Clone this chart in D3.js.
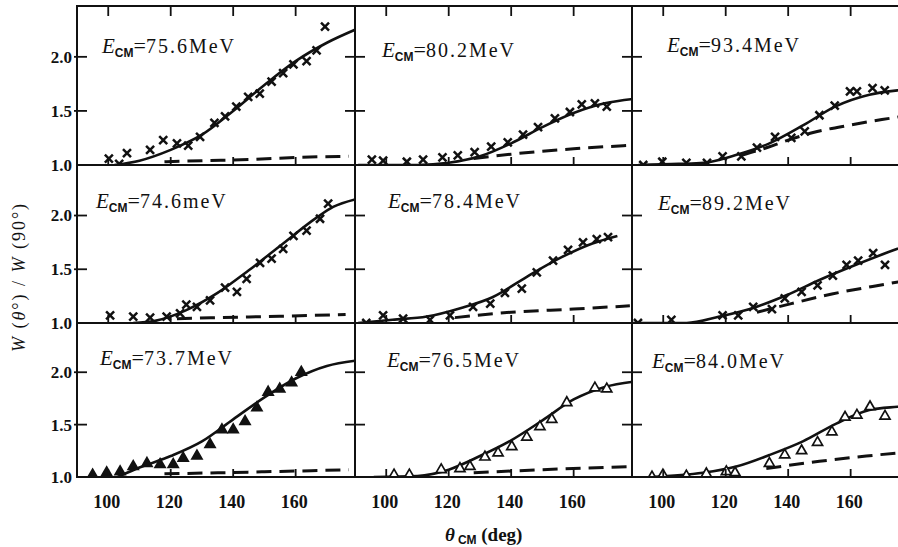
<!DOCTYPE html>
<html>
<head>
<meta charset="utf-8">
<script src="https://cdn.jsdelivr.net/npm/d3@7"></script>
<style>
body { margin: 0; background: #fff; }
svg { display: block; }
text { font-family: "Liberation Serif", "DejaVu Serif", serif; fill: #111; }
</style>
</head>
<body>
<svg id="chart" width="898" height="547"></svg>
<script>
const thetaTicks = [100, 120, 140, 160]
const ratioTicks = [1.0, 1.5, 2.0]
const energyLabels = ['75.6MeV', '80.2MeV', '93.4MeV', '74.6meV', '78.4MeV', '89.2MeV', '73.7MeV', '76.5MeV', '84.0MeV']

// solid = full calculation, dashed = second calculation, data = measured W(θ)/W(90)
const fit756 = [[102,1.0],[110,1.04],[120,1.14],[130,1.28],[140,1.50],[150,1.74],[160,1.96],[170,2.13],[179,2.25]]
const dash756 = [[118,1.03],[130,1.04],[145,1.05],[160,1.07],[177,1.08]]
const data756 = [[100.2,1.06],[103.5,1.01],[106,1.11],[113.4,1.14],[117.6,1.23],[122,1.20],[125.6,1.18],[129.4,1.26],[134,1.39],[137.4,1.45],[141,1.54],[144.8,1.63],[148.5,1.66],[152.3,1.77],[156,1.85],[159.3,1.93],[163.5,1.96],[166.7,2.06],[169.4,2.28]]

const fit802 = [[91,1.0],[110,1.0],[120,1.02],[130,1.08],[140,1.2],[150,1.35],[160,1.48],[170,1.57],[179,1.61]]
const dash802 = [[128,1.06],[140,1.10],[160,1.15],[177,1.18]]
const data802 = [[95.4,1.05],[99,1.04],[106.6,1.03],[111.8,1.05],[118,1.07],[122.9,1.09],[128.3,1.12],[133.6,1.17],[138.9,1.21],[143.8,1.28],[148.6,1.35],[154,1.43],[158.8,1.49],[162.6,1.56],[166.8,1.57],[170.6,1.54]]

const fit934 = [[92,1.0],[105,1.01],[113,1.02],[123,1.09],[134,1.2],[145,1.37],[155,1.54],[166,1.65],[175,1.69],[179,1.70]]
const dash934 = [[125,1.09],[132,1.15],[140,1.23],[148,1.30],[160,1.37],[170,1.42],[179,1.46]]
const data934 = [[93.6,1.0],[99.7,1.03],[107.4,1.02],[114,1.02],[119,1.08],[125,1.08],[130,1.16],[135.8,1.26],[141,1.25],[145.3,1.31],[150,1.46],[154.9,1.55],[159.8,1.68],[162,1.68],[167,1.71],[170.9,1.69]]

const fit746 = [[108,1.0],[115,1.02],[125,1.12],[135,1.28],[145,1.49],[156,1.74],[166.7,1.98],[172,2.08],[179,2.15]]
const dash746 = [[122,1.04],[135,1.05],[150,1.06],[165,1.07],[176,1.08]]
const data746 = [[100.6,1.07],[108,1.06],[113.4,1.05],[118.7,1.06],[123,1.09],[125,1.17],[128.4,1.15],[132.6,1.21],[137.4,1.33],[141.2,1.29],[144.3,1.41],[148.6,1.56],[152.3,1.6],[156,1.69],[159.3,1.81],[163.5,1.86],[167.8,1.97],[170.4,2.11]]

const fit784 = [[91,1.0],[102,1.03],[113,1.06],[124,1.14],[134,1.24],[145,1.43],[156,1.61],[166,1.74],[174,1.81]]
const dash784 = [[122,1.05],[140,1.10],[160,1.13],[178,1.16]]
const data784 = [[93.6,1.0],[99,1.07],[105.4,1.04],[114,1.03],[120.4,1.07],[127.8,1.15],[133.3,1.18],[138,1.28],[143.4,1.32],[148.2,1.47],[153.4,1.58],[158.2,1.68],[163,1.75],[167.4,1.78],[171,1.8]]

const fit892 = [[90,1.0],[107.5,1.0],[118,1.06],[128.8,1.14],[139.6,1.26],[150,1.4],[160.7,1.53],[175,1.69],[179,1.73]]
const dash892 = [[130,1.1],[141,1.18],[154,1.27],[167,1.34],[179,1.4]]
const data892 = [[91.9,1.0],[102.6,1.03],[119,1.07],[124,1.07],[128.8,1.15],[134.8,1.13],[138.9,1.23],[144.3,1.29],[149.4,1.35],[154.3,1.44],[158.7,1.54],[162.4,1.58],[167.2,1.65],[171,1.54]]

const fit737 = [[103,1.0],[110,1.09],[120,1.2],[130,1.34],[140,1.55],[150,1.76],[160,1.94],[170,2.06],[179,2.11]]
const dash737 = [[118,1.03],[135,1.04],[150,1.05],[165,1.06],[177,1.07]]
const data737 = [[95,1.02],[99.5,1.04],[103.8,1.05],[108,1.1],[112.4,1.13],[116.6,1.12],[120.8,1.12],[124,1.18],[128.4,1.2],[132.6,1.31],[136.4,1.45],[140,1.45],[143.8,1.53],[147.6,1.66],[151.2,1.81],[154.9,1.84],[158.7,1.9],[161.8,2.0]]

const fit765 = [[96,1.0],[110,1.01],[120,1.07],[130,1.2],[140,1.35],[150,1.54],[160,1.74],[170,1.86],[179,1.91]]
const dash765 = [[128,1.04],[150,1.07],[178,1.1]]
const data765 = [[102.5,1.02],[107.4,1.02],[117.6,1.07],[123.6,1.08],[126.8,1.1],[131.6,1.19],[135.8,1.23],[140.2,1.29],[145,1.38],[149.2,1.48],[153,1.55],[157.8,1.71],[166.8,1.85],[170.6,1.84]]

const fit840 = [[96,1.0],[112.7,1.04],[123.4,1.1],[134,1.21],[144.7,1.34],[155.4,1.51],[166,1.64],[175,1.67],[179,1.68]]
const dash840 = [[133,1.08],[150,1.15],[165,1.2],[179,1.24]]
const data840 = [[96.4,1.0],[99.9,1.02],[107.4,1.01],[113.8,1.03],[120.2,1.05],[123,1.04],[134,1.13],[138.9,1.21],[144.3,1.25],[149.4,1.33],[154,1.43],[158.2,1.57],[162,1.59],[166.2,1.67],[171,1.58]]

const panels = [
  { fit: fit756, dash: dash756, data: data756, mark: 'cross' },
  { fit: fit802, dash: dash802, data: data802, mark: 'cross' },
  { fit: fit934, dash: dash934, data: data934, mark: 'cross' },
  { fit: fit746, dash: dash746, data: data746, mark: 'cross' },
  { fit: fit784, dash: dash784, data: data784, mark: 'cross' },
  { fit: fit892, dash: dash892, data: data892, mark: 'cross' },
  { fit: fit737, dash: dash737, data: data737, mark: 'triFill' },
  { fit: fit765, dash: dash765, data: data765, mark: 'triOpen' },
  { fit: fit840, dash: dash840, data: data840, mark: 'triOpen' },
]

// layout
const colLeft = [77, 355, 632]
const rowTop = [6, 165, 323]
const rowBottom = [165, 323, 477]
const panelW = 278
const labelPos = [[25,47],[27,51],[35,46],[19,43],[33,43],[26,45],[23,42],[32,44],[20,45]]

const svg = d3.select('#chart')
const line = (x, y) => d3.line().x(d => x(d[0])).y(d => y(d[1])).curve(d3.curveMonotoneX)

panels.forEach((p, i) => {
  const r = Math.floor(i / 3), c = i % 3
  const x = d3.scaleLinear().domain([90, 179]).range([colLeft[c], colLeft[c] + panelW])
  const y = d3.scaleLinear().domain([1, 2.47]).range([rowBottom[r], rowTop[r]])

  svg.append('clipPath').attr('id', 'clip' + i)
    .append('rect')
    .attr('x', colLeft[c]).attr('y', rowTop[r] - 20)
    .attr('width', panelW).attr('height', rowBottom[r] - rowTop[r] + 20)

  const g = svg.append('g').attr('clip-path', `url(#clip${i})`)

  g.append('path').datum(p.dash)
    .attr('d', line(x, y))
    .attr('fill', 'none').attr('stroke', '#111')
    .attr('stroke-width', 3).attr('stroke-dasharray', '15,8')

  g.append('path').datum(p.fit)
    .attr('d', line(x, y))
    .attr('fill', 'none').attr('stroke', '#111')
    .attr('stroke-width', 2.6)

  const tri = d3.symbol().type(d3.symbolTriangle).size(44)
  const marks = g.selectAll('.pt').data(p.data).enter().append('g')
    .attr('transform', d => `translate(${x(d[0])},${y(d[1])})`)
  if (p.mark === 'cross') {
    marks.append('path')
      .attr('d', 'M-4,-4L4,4M-4,4L4,-4')
      .attr('stroke', '#111').attr('stroke-width', 2.5)
  } else {
    marks.append('path').attr('d', tri)
      .attr('fill', p.mark === 'triFill' ? '#111' : '#fff')
      .attr('stroke', '#111').attr('stroke-width', 1.7)
  }

  // ticks on the panel frame
  const ax = svg.append('g').attr('stroke', '#111').attr('stroke-width', 1.8)
  thetaTicks.forEach(t => {
    ax.append('line').attr('x1', x(t)).attr('x2', x(t))
      .attr('y1', rowBottom[r]).attr('y2', rowBottom[r] - 8)
    if (r === 0) {
      ax.append('line').attr('x1', x(t)).attr('x2', x(t))
        .attr('y1', rowTop[r]).attr('y2', rowTop[r] + 10)
    }
  })
  ratioTicks.filter(v => v > 1).forEach(v => {
    const x0 = colLeft[c]
    ax.append('line').attr('y1', y(v)).attr('y2', y(v))
      .attr('x1', c === 0 ? x0 - 3 : x0 - 10).attr('x2', x0 + 10)
  })

  // x tick labels on the bottom row
  if (r === 2) {
    svg.append('g')
      .attr('transform', `translate(0,${rowBottom[r]})`)
      .call(d3.axisBottom(x).tickValues(thetaTicks).tickSize(0).tickPadding(18))
      .call(s => s.select('.domain').remove())
      .selectAll('text')
      .attr('font-size', 18).attr('font-weight', 'bold')
      .attr('font-family', '"Liberation Serif", serif').attr('fill', '#111')
      .attr('dx', -2)
  }
  // y tick labels on the left column
  if (c === 0) {
    svg.append('g')
      .attr('transform', `translate(${colLeft[0]},0)`)
      .call(d3.axisLeft(y).tickValues(ratioTicks).tickFormat(d3.format('.1f')).tickSize(0).tickPadding(5))
      .call(s => s.select('.domain').remove())
      .selectAll('text')
      .attr('font-size', 17).attr('font-weight', 'bold')
      .attr('font-family', '"Liberation Serif", serif').attr('fill', '#111')
  }

  // energy label
  const lb = svg.append('text')
    .attr('x', colLeft[c] + labelPos[i][0]).attr('y', rowTop[r] + labelPos[i][1])
    .attr('font-size', 20)
  lb.append('tspan').text('E').attr('font-style', 'italic').attr('font-size', 21)
  lb.append('tspan').text('CM').attr('font-family', '"Liberation Sans", sans-serif')
    .attr('font-weight', 'bold').attr('font-size', 12).attr('dy', 4)
  lb.append('tspan').text('=').attr('dy', -4).attr('font-size', 22)
  lb.append('tspan').text(energyLabels[i]).attr('letter-spacing', 2)
})

// frame
const frame = svg.append('g').attr('stroke', '#111').attr('stroke-width', 2).attr('fill', 'none')
frame.append('rect').attr('x', colLeft[0]).attr('y', rowTop[0])
  .attr('width', colLeft[2] + panelW - colLeft[0]).attr('height', rowBottom[2] - rowTop[0])
rowTop.slice(1).forEach(v => frame.append('line').attr('x1', colLeft[0]).attr('x2', 898).attr('y1', v).attr('y2', v))
colLeft.slice(1).forEach(v => frame.append('line').attr('x1', v).attr('x2', v).attr('y1', rowTop[0]).attr('y2', rowBottom[2]))

// axis titles
const xt = svg.append('text').attr('x', 445).attr('y', 541).attr('font-size', 19).attr('font-weight', 'bold')
xt.append('tspan').text('θ').attr('font-style', 'italic')
xt.append('tspan').text('CM').attr('font-family', '"Liberation Sans", sans-serif')
  .attr('font-size', 12).attr('dy', 3).attr('dx', 3)
xt.append('tspan').text(' (deg)').attr('dy', -3)

const yt = svg.append('text').attr('transform', 'translate(25,277) rotate(-90)')
  .attr('text-anchor', 'middle').attr('font-size', 18).attr('letter-spacing', 2)
yt.append('tspan').text('W').attr('font-style', 'italic')
yt.append('tspan').text(' (')
yt.append('tspan').text('θ').attr('font-style', 'italic')
yt.append('tspan').text('°) / ')
yt.append('tspan').text('W').attr('font-style', 'italic')
yt.append('tspan').text(' (90°)')
</script>
</body>
</html>
